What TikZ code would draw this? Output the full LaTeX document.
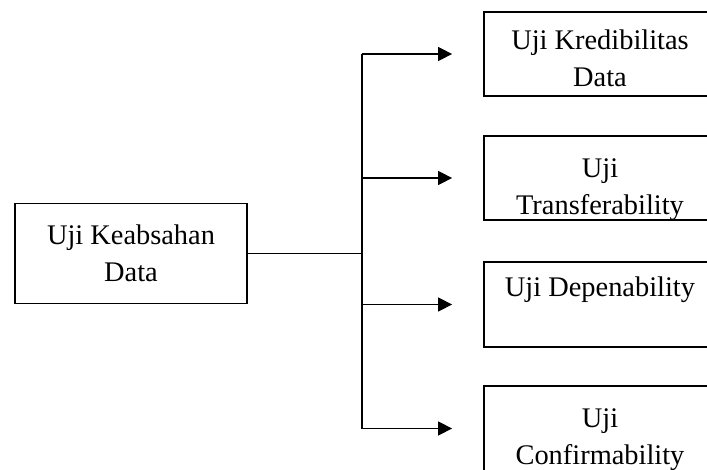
\documentclass[tikz,border=0pt]{standalone}
\usepackage{fontspec}
\setmainfont{Liberation Serif}
\usetikzlibrary{arrows.meta, positioning, calc}

\begin{document}
\begin{tikzpicture}[
	x=0.5pt, y=-0.5pt,
	box/.style={draw, line width=0.9pt, minimum width=116pt, inner sep=0pt},
	boxtext/.style={font=\fontsize{14.2}{18.5}\selectfont, align=center, inner sep=0pt, anchor=north},
	link/.style={line width=0.75pt},
	arrow/.style={line width=0.75pt, -{Triangle[length=7pt, width=7pt]}, shorten >=15.5pt}
	]
	\useasboundingbox (0,0) rectangle (707,470);
	% left box
	\node[box, minimum height=50pt] (keabsahan) at (131,253.5) {};
	\node[boxtext, anchor=center] at (keabsahan.center) {Uji Keabsahan\\Data};
	% right boxes
	\node[box, minimum height=42pt] (kredibilitas) at (600,54) {};
	\node[box, minimum height=42pt] (transfer) at (600,178) {};
	\node[box, minimum height=42.5pt] (depen) at (600,304.5) {};
	\node[box, minimum height=42.5pt] (konfirm) at (600,428.5) {};
	\node[boxtext] at ($(kredibilitas.north)+(0,18)$) {Uji Kredibilitas\\Data};
	\begin{scope}
		\clip (transfer.south west) rectangle (transfer.north east);
		\node[boxtext] at ($(transfer.north)+(0,23)$) {Uji\\Transferability};
	\end{scope}
	\node[boxtext] at ($(depen.north)+(0,15)$) {Uji Depenability};
	\node[boxtext] at ($(konfirm.north)+(0,23)$) {Uji\\Confirmability};
	% connectors
	\coordinate (hub) at (362,253.5);
	\draw[link] (keabsahan.east) -- (hub);
	\draw[link] (hub |- kredibilitas.west) -- (hub |- konfirm.west);
	\foreach \n in {kredibilitas, transfer, depen, konfirm}
		\draw[arrow] (hub |- \n.west) -- (\n.west);
\end{tikzpicture}
\end{document}
